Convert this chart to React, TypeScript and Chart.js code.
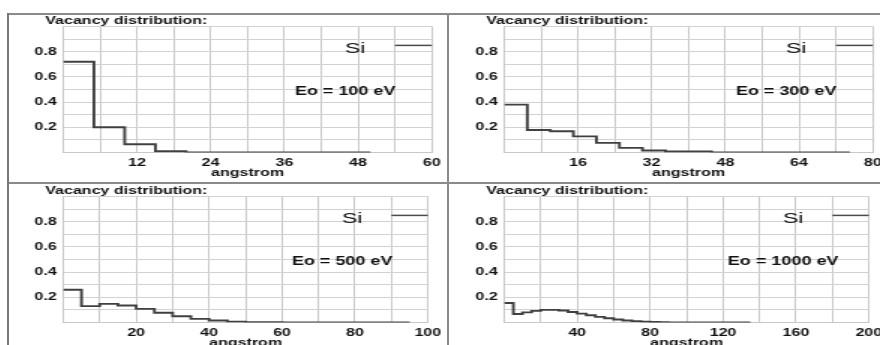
import React, { useEffect, useRef } from 'react';
import { Chart, registerables } from 'chart.js';

Chart.register(...registerables);

// ---- data ----
const BIN_WIDTH = 5; // angstrom per depth bin
const ENERGY_LABELS = ['Eo = 100 eV', 'Eo = 300 eV', 'Eo = 500 eV', 'Eo = 1000 eV'];
const X_MAX = [60, 80, 100, 200];
const X_STEP = [6, 8, 10, 20];
const X_TICK_LABELS = [
  [12, 24, 36, 48, 60],
  [16, 32, 48, 64, 80],
  [20, 40, 60, 80, 100],
  [40, 80, 120, 160, 200],
];
const Y_TICK_LABELS = ['0.2', '0.4', '0.6', '0.8'];
const ELEMENT = 'Si';
const TITLE = 'Vacancy distribution:';
const X_TITLE = 'angstrom';

const VAC_100 = [0.72, 0.2, 0.065, 0.01, 0, 0, 0, 0, 0, 0];
const VAC_300 = [0.38, 0.178, 0.168, 0.128, 0.076, 0.037, 0.016, 0.008, 0.008, 0, 0, 0, 0, 0, 0];
const VAC_500 = [0.26, 0.13, 0.148, 0.135, 0.108, 0.077, 0.05, 0.029, 0.016, 0.007, 0.003, 0.003, 0, 0, 0, 0, 0, 0, 0];
const VAC_1000 = [
  0.155, 0.068, 0.08, 0.092, 0.1, 0.1, 0.095, 0.083, 0.07, 0.057, 0.045, 0.034, 0.024, 0.016,
  0.011, 0.007, 0.004, 0.002, 0, 0, 0, 0, 0, 0, 0, 0, 0,
];
const SERIES = [VAC_100, VAC_300, VAC_500, VAC_1000];

// ---- layout ----
const SX = 1.5; // horizontal stretch of the original image
const PANEL_W = 441;
const PANEL_H = 170;
const ORIGIN_X = 7;
const ORIGIN_Y = 13;
const CANVAS_W = PANEL_W / SX;
const FONT = '"Liberation Sans", Arial, sans-serif';
const TEXT = '#111111';

function toPoints(vals: number[]) {
  const pts = vals.map((v, i) => ({ x: i * BIN_WIDTH, y: v }));
  pts.push({ x: vals.length * BIN_WIDTH, y: vals[vals.length - 1] });
  return pts;
}

function makeOverlay(idx: number) {
  return {
    id: 'overlay' + idx,
    afterDraw(chart: any) {
      const { ctx, chartArea: ca } = chart;
      ctx.save();
      ctx.fillStyle = TEXT;
      ctx.textBaseline = 'alphabetic';
      ctx.textAlign = 'left';
      ctx.font = `bold 10.7px ${FONT}`;
      ctx.fillText(TITLE, 25.5, 10.6);
      ctx.textAlign = 'center';
      ctx.font = `15.5px ${FONT}`;
      ctx.fillText(ELEMENT, ca.left + ca.width * 0.792, ca.top + 26.3);
      ctx.strokeStyle = '#4a4a4a';
      ctx.lineWidth = 1.5;
      ctx.beginPath();
      ctx.moveTo(ca.left + ca.width * 0.9, ca.top + 19);
      ctx.lineTo(ca.right, ca.top + 19);
      ctx.stroke();
      ctx.font = `bold 12px ${FONT}`;
      ctx.fillText(ENERGY_LABELS[idx], ca.left + ca.width * 0.765, ca.top + 68.3);
      ctx.restore();
    },
  };
}

function Panel({ idx }: { idx: number }) {
  const ref = useRef<HTMLCanvasElement | null>(null);
  useEffect(() => {
    if (!ref.current) return;
    const tickFont = { family: FONT, size: 10.7, weight: 'bold' as const };
    const xLabels = X_TICK_LABELS[idx];
    const chart = new Chart(ref.current, {
      type: 'line',
      data: {
        datasets: [
          {
            data: toPoints(SERIES[idx]),
            stepped: 'before',
            borderColor: '#404040',
            borderWidth: 1.9,
            pointRadius: 0,
            fill: false,
          },
        ],
      },
      options: {
        animation: false,
        responsive: false,
        events: [],
        layout: { padding: { top: 13.4, right: CANVAS_W - 37.5 - 245.7, left: 0, bottom: 0 } },
        plugins: { legend: { display: false }, tooltip: { enabled: false }, title: { display: false } },
        scales: {
          x: {
            type: 'linear',
            min: 0,
            max: X_MAX[idx],
            ticks: {
              stepSize: X_STEP[idx],
              autoSkip: false,
              maxRotation: 0,
              padding: 4.5,
              color: TEXT,
              font: tickFont,
              callback: (v: any) => (xLabels.includes(Math.round(Number(v))) ? String(Math.round(Number(v))) : ''),
            },
            grid: { color: '#c8c8c8', lineWidth: 1, drawTicks: false },
            border: { display: true, color: '#c8c8c8' },
            title: { display: true, text: X_TITLE, color: TEXT, font: tickFont, padding: { top: 0, bottom: 3.5 } },
            afterFit: (s: any) => {
              s.height = 30.5;
            },
          },
          y: {
            min: 0,
            max: 1,
            ticks: {
              stepSize: 0.1,
              autoSkip: false,
              padding: 4.4,
              color: TEXT,
              font: tickFont,
              callback: (v: any) => {
                const s = (Math.round(Number(v) * 10) / 10).toFixed(1);
                return Y_TICK_LABELS.includes(s) ? s : '';
              },
            },
            grid: { color: '#d2d2d2', lineWidth: 1, drawTicks: false },
            border: { display: true, color: '#c8c8c8' },
            afterFit: (s: any) => {
              s.width = 37.5;
            },
          },
        },
      },
      plugins: [makeOverlay(idx)],
    } as any);
    return () => chart.destroy();
  }, [idx]);

  const col = idx % 2;
  const row = Math.floor(idx / 2);
  return (
    <div
      style={{
        position: 'absolute',
        left: ORIGIN_X + col * PANEL_W,
        top: ORIGIN_Y + row * PANEL_H,
        width: CANVAS_W,
        height: PANEL_H,
        transform: `scaleX(${SX})`,
        transformOrigin: '0 0',
      }}
    >
      <canvas ref={ref} width={CANVAS_W} height={PANEL_H} />
    </div>
  );
}

export default function App() {
  const line = '#8a8a8a';
  return (
    <div
      style={{
        position: 'fixed',
        left: 0,
        top: 0,
        width: 880,
        height: 345,
        overflow: 'hidden',
        background: '#fff',
      }}
    >
      {[0, 1, 2, 3].map((i) => (
        <Panel key={i} idx={i} />
      ))}
      <div style={{ position: 'absolute', left: ORIGIN_X, top: ORIGIN_Y, width: 880, height: 2, background: line }} />
      <div style={{ position: 'absolute', left: ORIGIN_X, top: ORIGIN_Y + PANEL_H - 1, width: 880, height: 2, background: line }} />
      <div style={{ position: 'absolute', left: ORIGIN_X, top: ORIGIN_Y, width: 2, height: 345, background: '#777' }} />
      <div style={{ position: 'absolute', left: ORIGIN_X + PANEL_W - 1, top: ORIGIN_Y, width: 2, height: 345, background: line }} />
    </div>
  );
}
